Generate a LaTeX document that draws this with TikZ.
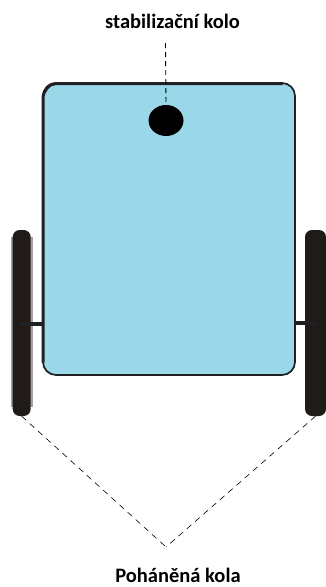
\documentclass[tikz,border=0pt]{standalone}
\usepackage{fontspec}
\setmainfont{Carlito}
\usetikzlibrary{shapes.geometric}
\definecolor{bodyblue}{RGB}{154,216,233}
\definecolor{wheeldark}{RGB}{33,27,24}
\definecolor{edgedark}{RGB}{30,32,36}
\definecolor{halo}{RGB}{165,161,159}
\tikzset{
  bodybox/.style={draw=edgedark,fill=bodyblue,line width=1.7pt,rounded corners=13pt,minimum width=252pt,minimum height=292pt,inner sep=0pt},
  edgeheavy/.style={draw=edgedark,line width=3pt,line cap=round},
  wheelbox/.style={fill=wheeldark,rounded corners=7pt,minimum height=186pt,inner sep=0pt},
  halobox/.style={fill=halo,minimum width=22pt,minimum height=170pt,inner sep=0pt},
  axle/.style={draw=edgedark,line width=4pt},
  caster/.style={ellipse,fill=black,minimum width=35pt,minimum height=31pt,inner sep=0pt},
  lbl/.style={font=\bfseries\fontsize{20.5}{24}\selectfont,text=black,inner sep=0pt,anchor=base},
  leader/.style={draw=black,line width=0.9pt,dash pattern=on 5pt off 4pt},
  thinleader/.style={draw=black,line width=0.6pt,dash pattern=on 6pt off 5pt}
}
\begin{document}
\begin{tikzpicture}[x=1pt,y=-1pt]
\useasboundingbox (0,0) rectangle (326,587);
\node[halobox] (lh) at (21.7,322) {};
\node[wheelbox,minimum width=18pt] (lw) at (21.7,323) {};
\node[wheelbox,minimum width=21pt] (rw) at (315.5,323) {};
\coordinate (la) at (20,324);
\coordinate (ra) at (317,323);
\node[bodybox] (body) at (169,229) {};
\draw[axle] (la) -- (body.west |- la);
\draw[axle] (ra) -- (body.east |- ra);
\coordinate (ltop) at (43,98);
\coordinate (lbot) at (43,362);
\coordinate (tl) at (56,83.5);
\coordinate (tr) at (282,83.5);
\draw[edgeheavy] (lbot) -- (ltop) to[out=90,in=180,looseness=0.9] (tl) -- (tr);
\node[caster] (cast) at (166,120.5) {};
\node[lbl] (top) at (172.5,28) {stabilizační kolo};
\node[lbl] (bot) at (178,582.5) {Poháněná kola};
\coordinate (tstart) at (165.5,43);
\coordinate (apex) at (166,547);
\draw[leader] (tstart) -- (cast.north);
\draw[thinleader] (lw.south) -- (apex);
\draw[thinleader] (rw.south) -- (apex);
\end{tikzpicture}
\end{document}
